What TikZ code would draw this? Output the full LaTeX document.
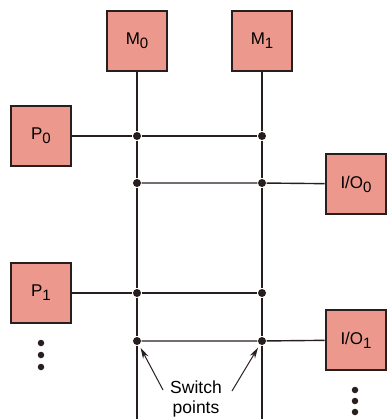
\documentclass[tikz,border=0pt]{standalone}
\usepackage{fontspec}
\setmainfont{Liberation Sans}
\usetikzlibrary{arrows.meta}
\definecolor{boxfill}{RGB}{236,152,140}
\definecolor{ink}{RGB}{40,30,30}
\newcommand{\sub}[1]{\raisebox{-0.45ex}{\fontsize{15}{18}\selectfont #1}}

\begin{document}
\begin{tikzpicture}[x=1pt, y=-1pt, line width=1.4pt, draw=ink,
    unit/.style={draw=ink, line width=2.6pt, fill=boxfill, minimum size=60pt, inner sep=0pt, font=\fontsize{17}{20}\selectfont},
    sw/.style={circle, fill=ink, inner sep=0pt, minimum size=8pt},
    vdot/.style={circle, fill=ink, inner sep=0pt, minimum size=6.5pt}]
        \useasboundingbox (0,0) rectangle (388,419);

        % units
        \node[unit] (m0) at (137,41) {M\sub{0}};
        \node[unit] (m1) at (262,41) {M\sub{1}};
        \node[unit] (p0) at (41,136) {P\sub{0}};
        \node[unit] (p1) at (41,293) {P\sub{1}};
        \node[unit] (io0) at (356,184) {I/O\sub{0}};
        \node[unit] (io1) at (356,340) {I/O\sub{1}};

        % switch points
        \node[sw] (s00) at (137,136) {};
        \node[sw] (s10) at (262,136) {};
        \node[sw] (s01) at (137,183) {};
        \node[sw] (s11) at (262,183) {};
        \node[sw] (s02) at (137,293) {};
        \node[sw] (s12) at (262,293) {};
        \node[sw] (s03) at (137,341) {};
        \node[sw] (s13) at (262,341) {};
        \coordinate (end0) at (137,419);
        \coordinate (end1) at (262,419);

        \draw (m0) -- (s00) -- (s01) -- (s02) -- (s03) -- (end0);
        \draw (m1) -- (s10) -- (s11) -- (s12) -- (s13) -- (end1);

        \draw (p0) -- (s00) -- (s10);
        \draw (s01) -- (s11) -- (io0);
        \draw (p1) -- (s02) -- (s12);
        \draw (s03) -- (s13) -- (io1);

        % more units below
        \foreach \y in {343,355,367} \node[vdot] at (41,\y) {};
        \foreach \y in {390,401,412} \node[vdot] at (355,\y) {};

        \node[align=center, font=\fontsize{17.5}{20}\selectfont] (lbl) at (196,399) {Switch\\points};
        \coordinate (tail0) at (163,390);
        \coordinate (tail1) at (232,391);
        \draw[-{Stealth[length=11pt, width=6pt]}, line width=1pt, shorten >=3pt] (tail0) -- (s03);
        \draw[-{Stealth[length=11pt, width=6pt]}, line width=1pt, shorten >=3pt] (tail1) -- (s13);
    \end{tikzpicture}
\end{document}
